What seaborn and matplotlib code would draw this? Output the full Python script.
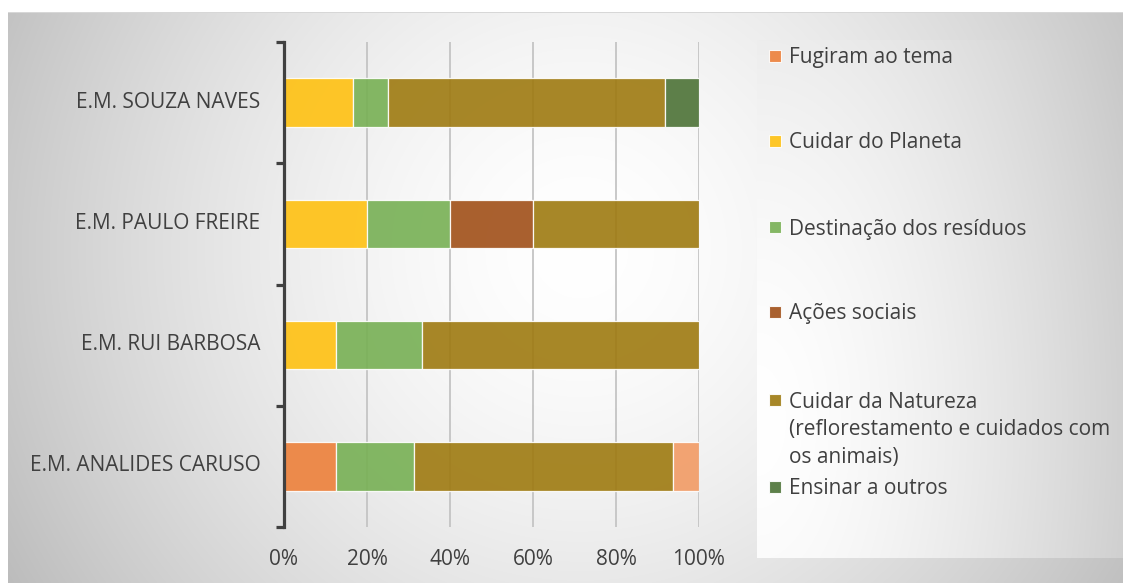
import numpy as np
import pandas as pd
import matplotlib
matplotlib.use("Agg")
import matplotlib.pyplot as plt
import matplotlib.transforms as mtrans
import seaborn as sns
from matplotlib.patches import Rectangle

# ---------------- data ----------------
schools = ["E.M. SOUZA NAVES", "E.M. PAULO FREIRE", "E.M. RUI BARBOSA", "E.M. ANALIDES CARUSO"]
series_names = [
    "Fugiram ao tema",
    "Cuidar do Planeta",
    "Destinação dos resíduos",
    "Ações sociais",
    "Cuidar da Natureza\n(reflorestamento e cuidados com\nos animais)",
    "Ensinar a outros",
    "Outros",
]
fugiram = [0, 0, 0, 12.5]
planeta = [16.7, 20, 12.5, 0]
destinacao = [8.3, 20, 20.8, 18.75]
acoes = [0, 20, 0, 0]
natureza = [66.7, 40, 66.7, 62.5]
ensinar = [8.3, 0, 0, 0]
outros = [0, 0, 0, 6.25]
series_values = [fugiram, planeta, destinacao, acoes, natureza, ensinar, outros]
series_colors = ["#ED803A", "#FFC111", "#77B054", "#A04F18", "#9E7A10", "#4C7236", "#F29B64"]
legend_show = [True, True, True, True, True, True, False]
xticks = [0, 20, 40, 60, 80, 100]
xtick_labels = ["0%", "20%", "40%", "60%", "80%", "100%"]

# ---------------- figure ----------------
sns.set_style("white")
plt.rcParams["font.family"] = ["Open Sans", "DejaVu Sans"]
FS = 15
W, H = 1123, 583
fig = plt.figure(figsize=(W / 100, H / 100), dpi=100)

# background gradients
yy, xx = np.mgrid[0:H, 0:W].astype(float)
d = np.hypot(xx - 580, yy - 250)
img = 255 - 65 * np.clip(d / 650, 0, 1.2) ** 1.6
leg = (xx >= 757) & (yy >= 40) & (yy <= 557)
d2 = np.hypot((xx - 757) / 360, (yy - 420) / 700)
img[leg] = (255 - 45 * np.clip(d2, 0, 1.3) ** 1.5)[leg]
img[yy < 12] = 255
img[(yy >= 12) & (yy < 13)] = 215
img[xx < 8] = 255
img = np.clip(img, 0, 255) / 255.0
bg = fig.add_axes([0, 0, 1, 1], zorder=-10)
bg.imshow(np.dstack([img, img, img]), aspect="auto", extent=[0, W, H, 0], interpolation="bilinear")
bg.set_xlim(0, W)
bg.set_ylim(H, 0)
bg.axis("off")

ax = fig.add_axes([284 / W, 56 / H, 415 / W, 485 / H])
ax.patch.set_alpha(0)

left = np.zeros(len(schools))
for name, vals, col in zip(series_names, series_values, series_colors):
    vals = np.asarray(vals, dtype=float)
    mask = vals > 0
    sub = pd.DataFrame({"school": np.array(schools)[mask], "pct": vals[mask]})
    sns.barplot(data=sub, x="pct", y="school", order=schools, orient="h",
                color=col, saturation=1, errorbar=None, width=0.4,
                left=left[mask], alpha=0.9,
                edgecolor=(1, 1, 1, 0.6), linewidth=0.9, ax=ax, zorder=3)
    left += vals

ax.set_xlim(0, 100)
ax.set_ylim(3.5, -0.5)
ax.set_xlabel("")
ax.set_ylabel("")
ax.set_xticks(xticks)
ax.set_xticklabels(xtick_labels)
ax.grid(axis="x", color="#C4C4C4", linewidth=1.3, zorder=0)
ax.grid(axis="y", visible=False)
ax.set_axisbelow(True)
for s in ["top", "right", "bottom"]:
    ax.spines[s].set_visible(False)
ax.spines["left"].set_color("#404040")
ax.spines["left"].set_linewidth(2.3)
ax.spines["left"].set_zorder(5)
ax.set_yticks([-0.5, 0.5, 1.5, 2.5, 3.5], minor=True)
ax.tick_params(axis="y", which="major", left=False, length=0, pad=17, labelsize=FS, labelcolor="#404040")
ax.tick_params(axis="y", which="minor", left=True, length=5.5, width=2.3, color="#404040", direction="out")
ax.tick_params(axis="x", which="major", bottom=False, length=0, pad=16, labelsize=FS, labelcolor="#404040")
shift_up = mtrans.ScaledTranslation(0, 3 / 100, fig.dpi_scale_trans)
for lab in ax.get_yticklabels():
    lab.set_transform(lab.get_transform() + shift_up)

# legend (manual, in pixel positions)
def fx(px):
    return px / W

def fy(py):
    return 1 - py / H

leg_y = [56, 141, 227, 312, 400, 487]
for i, (name, col) in enumerate([(n, c) for n, c, s in zip(series_names, series_colors, legend_show) if s]):
    y = leg_y[i]
    fig.patches.append(Rectangle((fx(769), fy(y + 6)), 12 / W, 12 / H, transform=fig.transFigure,
                                 facecolor=col, edgecolor=(1, 1, 1, 0.6), linewidth=0.8, alpha=0.9))
    if "\n" in name:
        fig.text(fx(789), fy(y - 8), name, ha="left", va="top", fontsize=FS,
                 color="#404040", linespacing=1.40)
    else:
        fig.text(fx(789), fy(y + 2), name, ha="left", va="center", fontsize=FS, color="#404040")

fig.savefig("out.png", dpi=100)
